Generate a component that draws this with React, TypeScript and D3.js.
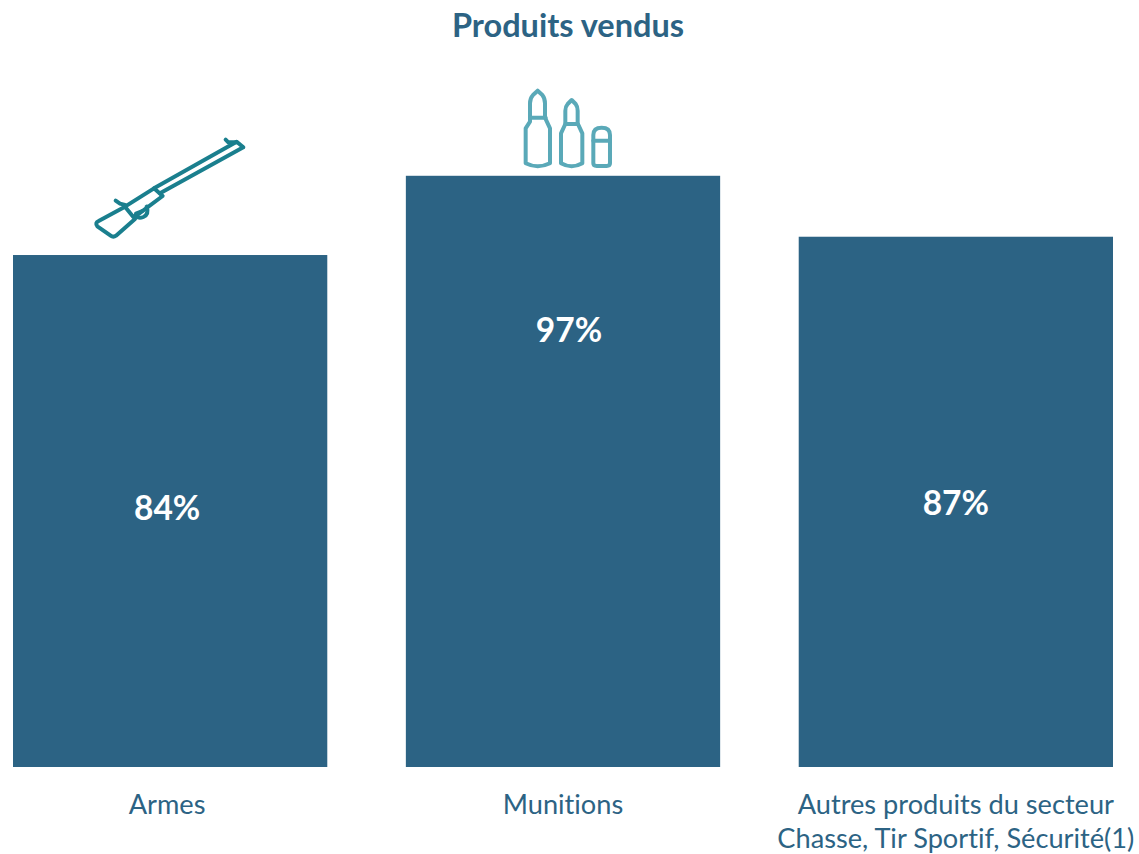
// App.tsx
import React from 'react';
import * as d3 from 'd3';

const categories = ['Armes', 'Munitions', 'Autres produits'];
const values = [84, 97, 87];
const categoryLabels = [['Armes'], ['Munitions'], ['Autres produits du secteur', 'Chasse, Tir Sportif, Sécurité(1)']];
// height of the % label inside each bar, in chart units
const labelLevels = [42.5, 71.6, 43.3];

const WIDTH = 1139;
const HEIGHT = 854;
const BAR_COLOR = '#2c6384';
const FONT = 'Lato, Carlito, sans-serif';
// the labels are not quite centered under the bars in the original
const valueNudge = [-3, 6, 0];
const labelNudge = [-3, 0, 0];

const x = d3.scaleBand<string>().domain(categories).range([13, 1113]).paddingInner(0.2);
const y = d3.scaleLinear().domain([0, 100]).range([767, 157.5]);
const center = (c: string) => (x(c) || 0) + x.bandwidth() / 2;

const rifle = [
  'M56,288 L135,245 L165,282 L108,332 Q100,338 92,332 L52,304 Q44,294 56,288 Z',
  'M135,245 L222,190 L248,213 L165,275',
  'M222,190 L470,50 L490,67 L240,205',
  'M437,44 L445,52 L470,52',
  'M107,227 L120,236 L135,240',
  'M165,272 Q175,282 190,276 Q208,268 200,245',
  'M168,266 L187,258',
];
const bullets = [
  'M98,32 L112,45 Q120,55 120,70 L120,113 L135,145 L135,250 Q98,268 62,250 L62,145 L75,125 L75,70 Q75,55 84,45 Z',
  'M75,113 L122,113',
  'M200,60 L212,72 Q218,80 218,92 L218,130 L232,160 L232,250 Q200,268 168,250 L168,160 L181,132 L181,92 Q181,80 188,72 Z',
  'M181,132 L218,132',
  'M265,165 Q265,143 290,143 Q315,143 315,165 L315,250 Q315,258 305,258 L275,258 Q265,258 265,250 Z',
  'M265,182 L315,182',
];

const App: React.FC = () => {
  return (
    <svg
      width={WIDTH}
      height={HEIGHT}
      style={{ position: 'absolute', left: 0, top: 0, background: '#ffffff', fontVariantLigatures: 'none' }}
      fontFamily={FONT}
    >
      <text x={568} y={37} textAnchor="middle" fontSize={32.5} fontWeight={700} fill={BAR_COLOR}>
        Produits vendus
      </text>

      {categories.map((c, i) => (
        <rect
          key={c}
          x={x(c)}
          y={y(values[i])}
          width={x.bandwidth()}
          height={y(0) - y(values[i])}
          fill={BAR_COLOR}
        />
      ))}

      {categories.map((c, i) => (
        <text
          key={c}
          x={center(c) + valueNudge[i]}
          y={y(labelLevels[i])}
          dy="0.35em"
          textAnchor="middle"
          fontSize={33.5}
          fontWeight={700}
          fill="#ffffff"
        >
          {values[i]}%
        </text>
      ))}

      {categories.map((c, i) => (
        <text key={c} textAnchor="middle" fontSize={27.2} fill={BAR_COLOR}>
          {categoryLabels[i].map((line, j) => (
            <tspan key={line} x={center(c) + labelNudge[i]} y={814 + j * 34}>
              {line}
            </tspan>
          ))}
        </text>
      ))}

      <g transform="translate(80,125) scale(0.3333)" fill="none" stroke="#1a7f8e" strokeWidth={12} strokeLinejoin="round" strokeLinecap="round">
        {rifle.map((d) => (
          <path key={d} d={d} />
        ))}
      </g>
      <g transform="translate(505,80) scale(0.3333)" fill="none" stroke="#5aa9b8" strokeWidth={12} strokeLinejoin="round" strokeLinecap="round">
        {bullets.map((d) => (
          <path key={d} d={d} />
        ))}
      </g>
    </svg>
  );
};

export default App;
